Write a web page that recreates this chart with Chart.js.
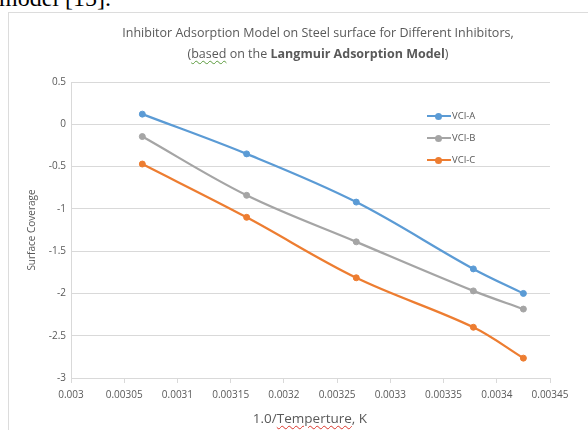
<!DOCTYPE html>
<html>
<head>
<meta charset="utf-8">
<script src="https://cdn.jsdelivr.net/npm/chart.js@4.4.1/dist/chart.umd.min.js"></script>
<style>
  html, body { margin: 0; padding: 0; background: #fff; }
  #wrap { position: relative; width: 588px; height: 430px; overflow: hidden; }
  #frame { position: absolute; left: 8px; top: 12px; width: 600px; height: 440px; border: 1px solid #dcdcdc; box-sizing: border-box; }
  #chart { position: absolute; left: 0; top: 0; }
  #above { position: absolute; left: -1px; top: -13px; font: 24px/22px "Liberation Serif", serif; color: #000; white-space: nowrap; }
  #title { position: absolute; left: 68px; top: 23px; width: 500px; text-align: center; font: 12.5px/20.5px "Open Sans", sans-serif; color: #595959; white-space: nowrap; }
  #xtitle { position: absolute; left: 210px; top: 409px; width: 200px; text-align: center; font: 13.5px/18px "Open Sans", sans-serif; color: #595959; white-space: nowrap; }
  .green { text-decoration: underline wavy #5a9a3c; text-decoration-thickness: 1px; text-underline-offset: 2px; }
  .red { text-decoration: underline wavy #d9362b; text-decoration-thickness: 1px; text-underline-offset: 2px; }
  #legend { position: absolute; left: 427px; top: 105px; font: 9.5px/22.2px "Open Sans", sans-serif; color: #595959; }
  .item { position: relative; height: 22.2px; padding-left: 25px; white-space: nowrap; }
  .line { position: absolute; left: 0; top: 10px; width: 24px; height: 2px; }
  .dot { position: absolute; left: 8px; top: 7.5px; width: 7px; height: 7px; border-radius: 50%; }
</style>
</head>
<body>
<div id="wrap">
  <div id="frame"></div>
  <div id="above">model [15].</div>
  <canvas id="chart" width="588" height="430"></canvas>
  <div id="title">Inhibitor Adsorption Model on Steel surface for Different Inhibitors,<br>(<span class="green">based</span> on the <b>Langmuir Adsorption Model</b>)</div>
  <div id="xtitle">1.0/<span class="red">Temperture</span>, K</div>
  <div id="legend"></div>
</div>
<script>
const invTemp = [0.003067, 0.003165, 0.003268, 0.003378, 0.003425];
const vciA = [0.12, -0.35, -0.92, -1.71, -2.0];
const vciB = [-0.145, -0.84, -1.39, -1.97, -2.185];
const vciC = [-0.47, -1.1, -1.815, -2.4, -2.765];
const xTicks = [0.003, 0.00305, 0.0031, 0.00315, 0.0032, 0.00325, 0.0033, 0.00335, 0.0034, 0.00345];
const yTicks = [0.5, 0, -0.5, -1, -1.5, -2, -2.5, -3];

const textColor = '#595959';
const gridColor = '#d9d9d9';

function points(values) {
  return invTemp.map((x, i) => ({x: x, y: values[i]}));
}

function series(label, values, color) {
  return {
    label: label,
    data: points(values),
    borderColor: color,
    backgroundColor: color,
    pointBackgroundColor: color,
    pointBorderColor: color,
    borderWidth: 2.25,
    pointRadius: 3,
    pointBorderWidth: 1,
    tension: 0.35
  };
}

const config = {
  type: 'line',
  data: {
    datasets: [
      series('VCI-A', vciA, '#5b9bd5'),
      series('VCI-B', vciB, '#a5a5a5'),
      series('VCI-C', vciC, '#ed7d31')
    ]
  },
  options: {
    responsive: false,
    animation: false,
    layout: { padding: { top: 82, right: 38, left: 0, bottom: 0 } },
    plugins: {
      legend: { display: false },
      title: { display: false },
      tooltip: { enabled: false }
    },
    scales: {
      x: {
        type: 'linear',
        min: 0.003,
        max: 0.00345,
        afterBuildTicks: scale => { scale.ticks = xTicks.map(v => ({value: v})); },
        afterFit: scale => { scale.height = 52; },
        grid: { drawOnChartArea: false, drawTicks: true, tickLength: 5, color: gridColor },
        border: { color: gridColor },
        ticks: {
          color: textColor,
          font: { family: 'Open Sans', size: 10 },
          padding: 6,
          maxRotation: 0,
          autoSkip: false,
          callback: v => String(Number(v.toFixed(5)))
        }
      },
      y: {
        min: -3,
        max: 0.5,
        afterBuildTicks: scale => { scale.ticks = yTicks.map(v => ({value: v})); },
        afterFit: scale => { scale.width = 71; },
        grid: { color: gridColor, drawTicks: false },
        border: { color: gridColor },
        ticks: {
          color: textColor,
          font: { family: 'Open Sans', size: 10 },
          padding: 5,
          callback: v => String(v)
        },
        title: {
          display: true,
          text: 'Surface Coverage',
          color: textColor,
          font: { family: 'Open Sans', size: 10 },
          padding: { top: 26, bottom: 0 }
        }
      }
    }
  }
};

var chart = new Chart(document.getElementById('chart'), config);

// legend built from the datasets
let legend = document.getElementById('legend');
chart.data.datasets.forEach(ds => {
  let item = document.createElement('div');
  item.className = 'item';
  item.innerHTML = '<div class="line" style="background:' + ds.borderColor + '"></div>' +
    '<div class="dot" style="background:' + ds.borderColor + '"></div>' + ds.label;
  legend.appendChild(item);
});
</script>
</body>
</html>
